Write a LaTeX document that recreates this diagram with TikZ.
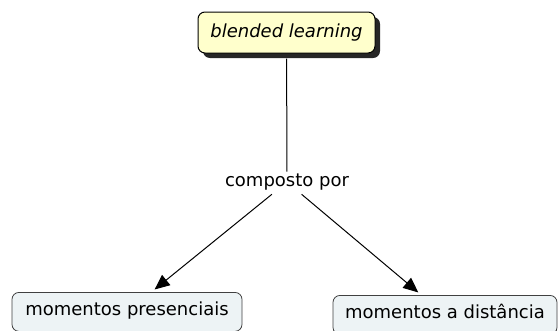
\documentclass[tikz,border=0pt]{standalone}
\usepackage{fontspec}
\setmainfont{DejaVu Sans}
\usetikzlibrary{arrows.meta,shadows}
\definecolor{topfill}{HTML}{FFFFCC}
\definecolor{botfill}{HTML}{EDF3F5}
\begin{document}
\begin{tikzpicture}[x=1pt,y=-1pt,
  topbox/.style={draw=black,line width=1pt,fill=topfill,rounded corners=7pt,minimum width=177pt,minimum height=41pt,inner sep=0pt,font=\fontsize{18}{20}\selectfont\itshape,drop shadow={shadow xshift=5pt,shadow yshift=-5pt,fill=black!85,opacity=1}},
  botbox/.style={draw=black!75,line width=0.8pt,fill=botfill,rounded corners=7pt,anchor=north,inner xsep=0pt,inner ysep=0pt,font=\fontsize{18}{20}\selectfont,text depth=16pt,text height=23pt},
  linkword/.style={inner sep=2pt,font=\fontsize{18}{20}\selectfont},
  conn/.style={line width=1pt,black},
  arr/.style={conn,-{Triangle[length=15pt,width=13pt]}}]
\useasboundingbox (0,0) rectangle (559,330);
\node[topbox] (bl) at (286.5,32.5) {blended learning};
\node[linkword] (cp) at (287,182) {composto por};
\node[botbox,minimum width=230pt] (mp) at (127,292) {momentos presenciais};
\node[botbox,minimum width=224pt] (md) at (445,295) {momentos a distância};
\draw[conn,shorten <=5pt] (bl) -- (cp);
\draw[arr,shorten <=3pt,shorten >=4pt] (cp) -- (mp);
\draw[arr,shorten <=3pt,shorten >=4pt] (cp) -- (md);
\end{tikzpicture}
\end{document}
